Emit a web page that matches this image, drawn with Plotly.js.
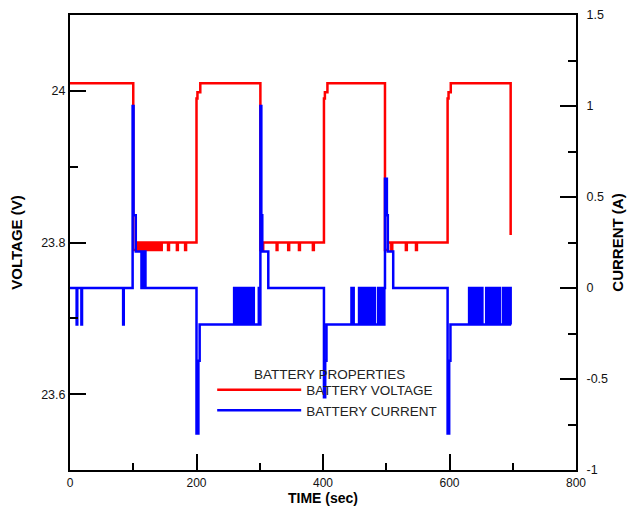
<!DOCTYPE html>
<html>
<head>
<meta charset="utf-8">
<script src="https://cdn.plot.ly/plotly-3.0.1.min.js"></script>
<style>html,body{margin:0;padding:0;background:#fff;}#chart{width:631px;height:507px;}</style>
</head>
<body>
<div id="chart"></div>
<script>
// ---- Battery voltage (V) vs time (sec), step trace ----
var timeV = [0, 100, 107,
  110, 111, 112, 113, 114, 115, 116, 117, 118, 119, 120, 121, 122, 123, 124, 125,
  126, 127, 128, 129, 130, 131, 132, 133, 134, 135, 136, 137, 138, 139, 140, 141,
  142, 143, 144, 145,
  155, 156.5, 169, 170.5, 182, 183.5,
  200, 201.5, 206,
  301, 305.5, 326.7, 328, 345, 346.5, 362, 363.5, 384, 385.5,
  401.5, 403, 407,
  498, 503, 508, 509.5, 531, 532.5, 547, 548.5,
  597, 598.5, 602,
  696.7];
var voltage = [24.01, 23.79, 23.80,
  23.79, 23.80, 23.79, 23.80, 23.79, 23.80, 23.79, 23.80, 23.79, 23.80, 23.79, 23.80, 23.79, 23.80, 23.79, 23.80,
  23.79, 23.80, 23.79, 23.80, 23.79, 23.80, 23.79, 23.80, 23.79, 23.80, 23.79, 23.80, 23.79, 23.80, 23.79, 23.80,
  23.79, 23.80, 23.79, 23.80,
  23.79, 23.80, 23.79, 23.80, 23.79, 23.80,
  23.99, 23.998, 24.01,
  23.79, 23.80, 23.79, 23.80, 23.79, 23.80, 23.79, 23.80, 23.79, 23.80,
  23.99, 23.998, 24.01,
  23.79, 23.80, 23.79, 23.80, 23.79, 23.80, 23.79, 23.80,
  23.99, 23.998, 24.01,
  23.81];

// ---- Battery current (A) vs time (sec), step trace ----
var timeC = [0, 10.5, 11.5, 18, 19, 84, 85,
  99, 100.5, 104,
  113, 113.8, 114.6, 115.4, 116.2, 117, 117.8, 118.6, 119.3,
  200, 203, 205,
  259.5, 260.3, 261.1, 261.9, 262.7, 263.5,
  266.3, 267.1, 267.9, 268.7, 269.5, 270.3, 271.1, 271.8,
  274.2, 275, 275.8, 276.6, 277.4, 278.2, 279, 279.6,
  282.2, 283, 283.8, 284.6, 285.4, 286.2, 287, 287.8, 288.6, 289.4, 290, 290.6,
  298.5, 299.5,
  301, 302.5, 304, 313.5,
  401.5, 403.5, 405.5,
  445, 446, 447.5, 448.5,
  457, 458, 459, 460, 461, 462, 463, 464, 465, 466, 467, 468, 469, 470, 471, 472, 473, 474, 475, 476, 477, 478, 479, 480, 481, 481.8,
  487, 488, 489, 490, 491, 492, 493, 494, 495, 496, 497,
  498, 501, 502.5, 511,
  597, 599.5, 601.5,
  631, 632, 633, 634, 635, 636, 637, 638, 639, 640, 641, 642, 643, 644, 645, 646, 647, 648, 649, 650, 651, 652,
  658, 659, 660, 661, 662, 663, 663.8, 664.5,
  667, 668, 669, 670, 671, 672, 673, 674, 675, 676, 677, 678, 679, 680,
  685, 686, 687, 688,
  691.5, 692.5, 693.5, 694.5, 695.5, 696.7];
var current = [0, -0.2, 0, -0.2, 0, -0.2, 0,
  1.0, 0.4, 0.2,
  0, 0.2, 0, 0.2, 0, 0.2, 0, 0.2, 0,
  -0.8, -0.4, -0.2,
  0, -0.2, 0, -0.2, 0, -0.2,
  0, -0.2, 0, -0.2, 0, -0.2, 0, -0.2,
  0, -0.2, 0, -0.2, 0, -0.2, 0, -0.2,
  0, -0.2, 0, -0.2, 0, -0.2, 0, -0.2, 0, -0.2, 0, -0.2,
  0, -0.2,
  1.0, 0.4, 0.2, 0,
  -0.6, -0.4, -0.2,
  0, -0.2, 0, -0.2,
  0, -0.2, 0, -0.2, 0, -0.2, 0, -0.2, 0, -0.2, 0, -0.2, 0, -0.2, 0, -0.2, 0, -0.2, 0, -0.2, 0, -0.2, 0, -0.2, 0, -0.2,
  0, -0.2, 0, -0.2, 0, -0.2, 0, -0.2, 0, -0.2, 0,
  0.6, 0.4, 0.2, 0,
  -0.8, -0.4, -0.2,
  0, -0.2, 0, -0.2, 0, -0.2, 0, -0.2, 0, -0.2, 0, -0.2, 0, -0.2, 0, -0.2, 0, -0.2, 0, -0.2, 0, -0.2,
  0, -0.2, 0, -0.2, 0, -0.2, 0, -0.2,
  0, -0.2, 0, -0.2, 0, -0.2, 0, -0.2, 0, -0.2, 0, -0.2, 0, -0.2,
  0, -0.2, 0, -0.2,
  0, -0.2, 0, -0.2, 0, -0.2];

// ---- Axis ticks and labels ----
var xTickVals = [0, 200, 400, 600, 800];
var xTickText = ['0', '200', '400', '600', '800'];
var xMinorVals = [100, 300, 500, 700];
var vTickVals = [23.6, 23.8, 24];
var vTickText = ['23.6', '23.8', '24'];
var vMinorVals = [23.7, 23.9];
var cTickVals = [-1, -0.5, 0, 0.5, 1, 1.5];
var cTickText = ['-1', '-0.5', '0', '0.5', '1', '1.5'];
var cMinorVals = [-0.75, -0.25, 0.25, 0.75, 1.25];

var seriesNames = ['BATTERY VOLTAGE', 'BATTERY CURRENT'];
var legendTitle = 'BATTERY PROPERTIES';

var FONT = 'Arial, "Liberation Sans", sans-serif';

var traces = [
  {x: timeV, y: voltage, name: seriesNames[0], type: 'scatter', mode: 'lines',
   line: {color: '#ff0000', width: 2.5, shape: 'hv'}, yaxis: 'y'},
  {x: timeC, y: current, name: seriesNames[1], type: 'scatter', mode: 'lines',
   line: {color: '#0000ff', width: 2.5, shape: 'hv'}, yaxis: 'y2'}
];

var axisCommon = {
  showgrid: false, zeroline: false, showline: true, linecolor: '#000', linewidth: 2,
  ticks: 'inside', tickcolor: '#000', tickwidth: 2, ticklen: 16,
  tickfont: {family: FONT, size: 12.5, color: '#111'},
  automargin: false
};

var layout = {
  width: 631, height: 507,
  margin: {l: 70, r: 55, t: 15, b: 37, pad: 0},
  paper_bgcolor: '#fff', plot_bgcolor: '#fff',
  font: {family: FONT, color: '#111'},
  xaxis: Object.assign({}, axisCommon, {
    range: [0, 800], tickmode: 'array', tickvals: xTickVals, ticktext: xTickText,
    mirror: true, ticklabelstandoff: 1,
    tickfont: {family: FONT, size: 12, color: '#111'},
    minor: {tickmode: 'array', tickvals: xMinorVals, ticks: 'inside', ticklen: 7, tickwidth: 2, tickcolor: '#000'},
    title: {text: 'TIME (sec)', font: {family: FONT, size: 14, color: '#000', weight: 'bold'}, standoff: 2}
  }),
  yaxis: Object.assign({}, axisCommon, {
    range: [23.5, 24.1], tickmode: 'array', tickvals: vTickVals, ticktext: vTickText,
    minor: {tickmode: 'array', tickvals: vMinorVals, ticks: 'inside', ticklen: 8, tickwidth: 2, tickcolor: '#000'},
    title: {text: 'VOLTAGE (V)', font: {family: FONT, size: 15, color: '#000', weight: 'bold'}, standoff: 15}
  }),
  yaxis2: Object.assign({}, axisCommon, {
    range: [-1, 1.5], overlaying: 'y', side: 'right', anchor: 'x',
    tickmode: 'array', tickvals: cTickVals, ticktext: cTickText, ticklabelstandoff: 6,
    minor: {tickmode: 'array', tickvals: cMinorVals, ticks: 'inside', ticklen: 8, tickwidth: 2, tickcolor: '#000'},
    title: {text: 'CURRENT (A)', font: {family: FONT, size: 15, color: '#000', weight: 'bold'}, standoff: 5}
  }),
  showlegend: true,
  legend: {
    x: 0.281, y: 0.21, xanchor: 'left', yanchor: 'top',
    bgcolor: 'rgba(0,0,0,0)', borderwidth: 0,
    itemwidth: 84,
    font: {family: FONT, size: 13.5, color: '#222'},
    traceorder: 'normal'
  },
  annotations: [{
    text: legendTitle, xref: 'paper', yref: 'paper', x: 0.512, y: 0.2088,
    xanchor: 'center', yanchor: 'middle', showarrow: false,
    font: {family: FONT, size: 13.5, color: '#222'}
  }]
};

Plotly.newPlot('chart', traces, layout, {staticPlot: true, displayModeBar: false});
</script>
</body>
</html>
